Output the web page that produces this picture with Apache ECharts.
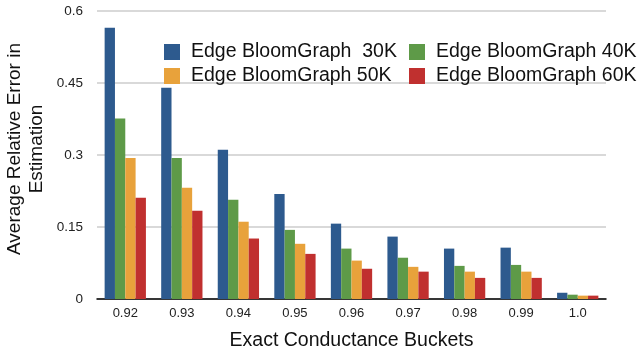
<!DOCTYPE html>
<html>
<head>
<meta charset="utf-8">
<script src="https://cdn.jsdelivr.net/npm/echarts@6/dist/echarts.min.js"></script>
<style>
  html, body { margin: 0; padding: 0; background: #fff; }
  #chart { width: 637px; height: 354px; }
</style>
</head>
<body>
<div id="chart"></div>
<script>
// Conductance buckets on the x axis
var buckets = ['0.92', '0.93', '0.94', '0.95', '0.96', '0.97', '0.98', '0.99', '1.0'];

// Average relative error per bucket for each filter size
var err30K = [0.565, 0.440, 0.311, 0.219, 0.157, 0.130, 0.105, 0.107, 0.013];
var err40K = [0.376, 0.294, 0.207, 0.144, 0.105, 0.086, 0.069, 0.071, 0.009];
var err50K = [0.294, 0.232, 0.161, 0.115, 0.080, 0.067, 0.057, 0.057, 0.007];
var err60K = [0.211, 0.184, 0.126, 0.094, 0.063, 0.057, 0.044, 0.044, 0.007];

var seriesNames = ['Edge BloomGraph  30K', 'Edge BloomGraph 40K', 'Edge BloomGraph 50K', 'Edge BloomGraph 60K'];
var seriesData = [err30K, err40K, err50K, err60K];
var seriesColors = ['#2d5a8e', '#5e9a48', '#e8a23b', '#c0302f'];

var yTicks = [0, 0.15, 0.3, 0.45, 0.6];

var FONT = '"Liberation Sans", Helvetica, Arial, sans-serif';

var legendPos = [
  { left: 164, top: 42 },
  { left: 409, top: 42 },
  { left: 164, top: 66 },
  { left: 409, top: 66 }
];

var chart = echarts.init(document.getElementById('chart'), null, { renderer: 'canvas' });

chart.setOption({
  animation: false,
  backgroundColor: '#fff',
  textStyle: { fontFamily: FONT },
  grid: { left: 97, right: 31, top: 11, bottom: 55, containLabel: false, outerBoundsMode: 'none' },
  legend: seriesNames.map(function (n, i) {
    return {
      data: [n],
      left: legendPos[i].left,
      top: legendPos[i].top,
      padding: 0,
      itemWidth: 16,
      itemHeight: 16,
      itemGap: 0,
      icon: 'rect',
      selectedMode: false,
      textStyle: { fontSize: 19.5, color: '#111', fontFamily: FONT, padding: [0, 0, 0, 6] }
    };
  }),
  xAxis: {
    type: 'category',
    data: buckets,
    name: 'Exact Conductance Buckets',
    nameLocation: 'middle',
    nameMoveOverlap: false,
    nameGap: 32,
    nameTextStyle: { fontSize: 19.5, color: '#111', fontFamily: FONT },
    axisLine: { lineStyle: { color: '#000', width: 1.5 } },
    axisTick: { show: false },
    axisLabel: { fontSize: 13, color: '#222', margin: 8, fontFamily: FONT }
  },
  yAxis: {
    type: 'value',
    min: yTicks[0],
    max: yTicks[yTicks.length - 1],
    interval: 0.15,
    name: 'Average Relative Error in\nEstimation',
    nameLocation: 'middle',
    nameMoveOverlap: false,
    nameRotate: 90,
    nameGap: 49,
    nameTextStyle: { fontSize: 19, color: '#111', fontFamily: FONT, lineHeight: 22, padding: [0, 0, 0, 12] },
    axisLine: { show: false },
    axisTick: { show: false },
    splitLine: { lineStyle: { color: '#cccccc', width: 1.5 } },
    axisLabel: {
      fontSize: 13.5,
      color: '#222',
      margin: 14,
      fontFamily: FONT,
      formatter: function (v) { return String(Math.round(v * 100) / 100); }
    }
  },
  series: seriesNames.map(function (n, i) {
    return {
      name: n,
      type: 'bar',
      data: seriesData[i],
      barGap: '0%',
      barCategoryGap: '27%',
      itemStyle: { color: seriesColors[i] }
    };
  })
});
</script>
</body>
</html>
